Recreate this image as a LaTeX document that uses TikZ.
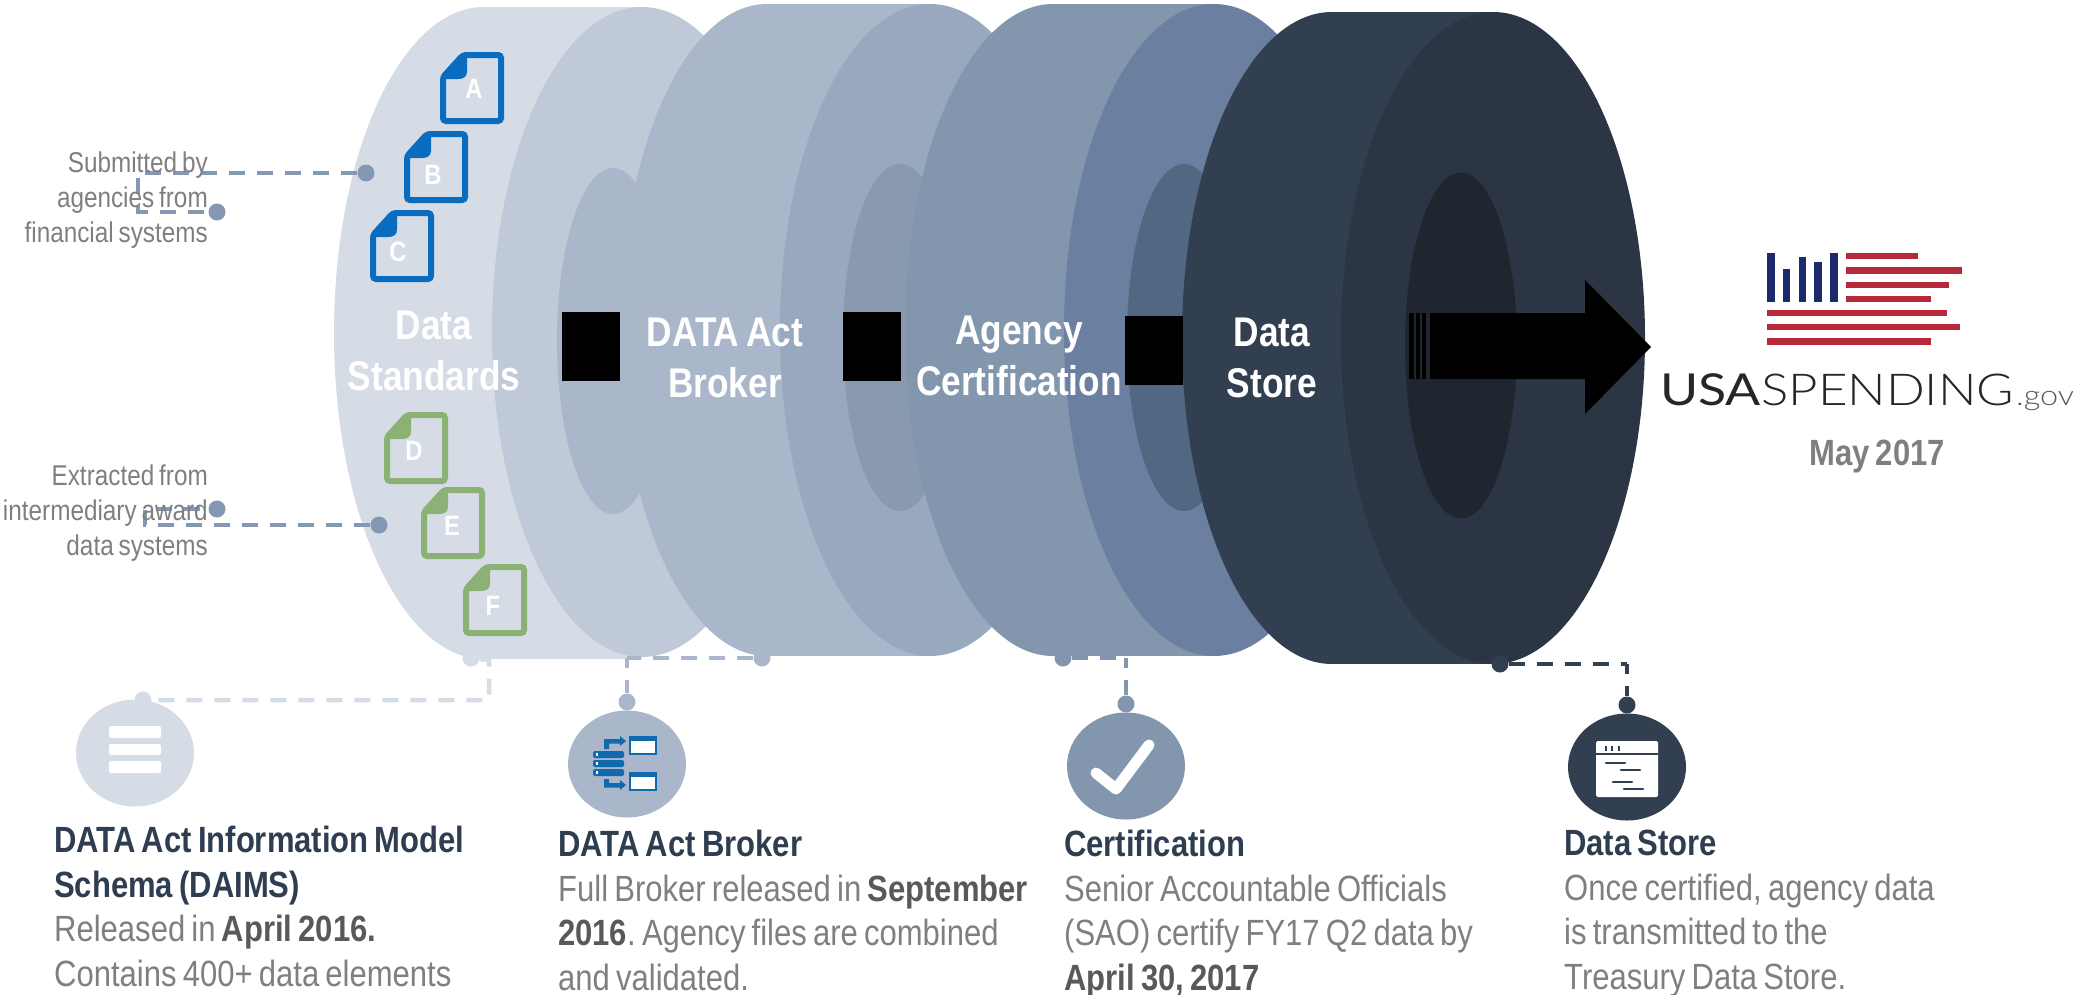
\documentclass[tikz,border=0pt]{standalone}
\usepackage{fontspec}
\setmainfont[FakeStretch=.85,WordSpace=.72]{Liberation Sans}
\newfontfamily\logofont[FakeStretch=1.18]{Lato}
\newfontfamily\logolight[FakeStretch=1.16]{Lato Light}
\usetikzlibrary{shapes.geometric}
\definecolor{discone}{HTML}{D5DCE6}
\definecolor{disconein}{HTML}{BFC9D8}
\definecolor{disctwo}{HTML}{AAB6C9}
\definecolor{disctwoin}{HTML}{98A8BE}
\definecolor{disctwohole}{HTML}{8899B0}
\definecolor{discthree}{HTML}{8296AE}
\definecolor{discthreein}{HTML}{6B80A0}
\definecolor{discthreehole}{HTML}{526882}
\definecolor{discfour}{HTML}{323F50}
\definecolor{discfourin}{HTML}{2B3544}
\definecolor{discfourhole}{HTML}{1F2630}
\definecolor{sideline}{HTML}{8598B3}
\definecolor{docblue}{HTML}{0A6CBF}
\definecolor{docgreen}{HTML}{8BB174}
\definecolor{brokerblue}{HTML}{1169AE}
\definecolor{bodygray}{HTML}{7F7F7F}
\definecolor{boldgray}{HTML}{595959}
\definecolor{headcolor}{HTML}{2E3D50}
\definecolor{flagred}{HTML}{B5293A}
\definecolor{flagblue}{HTML}{1B2A6B}
\tikzset{
  dotnode/.style={circle,minimum size=17pt,inner sep=0pt,fill=#1},
  iconnode/.style={ellipse,minimum width=118pt,minimum height=107pt,inner sep=0pt,fill=#1},
  dashline/.style={draw=#1,line width=4.5pt,dash pattern=on 16pt off 12pt},
  stemline/.style={draw=#1,line width=4.5pt,dash pattern=on 10pt off 12pt on 40pt},
  disclabel/.style={text=white,font=\fontsize{41.5}{51}\selectfont\bfseries,align=center,inner sep=0pt,anchor=base},
  sidelabel/.style={text=bodygray,font=\fontsize{28.6}{35}\selectfont,align=right,inner sep=0pt,anchor=north east},
  infotext/.style={text=bodygray,font=\fontsize{36.5}{44.5}\selectfont,align=left,inner sep=0pt,anchor=north west},
  docletter/.style={text=white,font=\fontsize{28}{28}\selectfont\bfseries,inner sep=0pt},
  pics/docicon/.style={code={
    \draw[draw=#1,line width=6pt,rounded corners=3pt] (23,3) -- (61,3) -- (61,69) -- (3,69) -- (3,25) -- cycle;
    \fill[#1] (3,27) -- (24,3) -- (27,3) -- (27,20) .. controls (27,25) and (23,27) .. (18,27) -- cycle;
  }}
}
\newcommand{\headtext}[1]{\textcolor{headcolor}{\bfseries #1}}
\newcommand{\boldtext}[1]{\textcolor{boldgray}{\bfseries #1}}
\begin{document}
\frenchspacing
\begin{tikzpicture}[x=1pt,y=-1pt]
\useasboundingbox (0,0) rectangle (2073,994);

% disc one
\fill[discone] (484,333) ellipse [x radius=150,y radius=326];
\fill[discone] (484,7) rectangle (642,659);
\fill[disconein] (642,332) ellipse [x radius=150,y radius=325];
\fill[disctwo] (613,341) ellipse [x radius=56,y radius=173];
% disc two
\fill[disctwo] (767,330) ellipse [x radius=147,y radius=326];
\fill[disctwo] (767,4) rectangle (930,656);
\fill[disctwoin] (930,330) ellipse [x radius=150,y radius=326];
\fill[disctwohole] (900,337.5) ellipse [x radius=57,y radius=173.5];
% disc three
\fill[discthree] (1053,330) ellipse [x radius=148,y radius=326];
\fill[discthree] (1053,4) rectangle (1214,656);
\fill[discthreein] (1214,330) ellipse [x radius=150,y radius=326];
\fill[discthreehole] (1184,337.5) ellipse [x radius=57,y radius=173.5];
% disc four
\fill[discfour] (1332,338) ellipse [x radius=150,y radius=326];
\fill[discfour] (1332,12) rectangle (1493,664);
\fill[discfourin] (1493,338) ellipse [x radius=152,y radius=326];
\fill[discfourhole] (1461,345.5) ellipse [x radius=56,y radius=173];

% black blocks and arrow
\fill[black] (562,312) rectangle (620,381);
\fill[black] (843,312) rectangle (901,381);
\fill[black] (1125,316) rectangle (1183,385);
\fill[black] (1409,313) rectangle (1414,379);
\fill[black] (1415.5,313) rectangle (1420,379);
\fill[black] (1421.5,313) rectangle (1426,379);
\fill[black] (1430,313) -- (1585,313) -- (1585,280) -- (1651,347) -- (1585,414) -- (1585,379) -- (1430,379) -- cycle;

% disc labels
\node[disclabel] (standards) at (434,390) {Data\\Standards};
\node[disclabel] (broker) at (725,397) {DATA Act\\Broker};
\node[disclabel] (certify) at (1019,395) {Agency\\Certification};
\node[disclabel] (store) at (1272,397) {Data\\Store};

% files
\pic at (440,52) {docicon=docblue};
\pic at (404,131) {docicon=docblue};
\pic at (370,210) {docicon=docblue};
\pic at (384,412) {docicon=docgreen};
\pic at (421,487) {docicon=docgreen};
\pic at (463,564) {docicon=docgreen};
\node[docletter] (fileA) at (474,89) {A};
\node[docletter] (fileB) at (433,175) {B};
\node[docletter] (fileC) at (398,252) {C};
\node[docletter] (fileD) at (414,451) {D};
\node[docletter] (fileE) at (452,526) {E};
\node[docletter] (fileF) at (493,606) {F};

% side connectors
\node[dotnode=sideline] (subdotA) at (366,173) {};
\node[dotnode=sideline] (subdotB) at (217,212) {};
\coordinate (subcornerA) at (138,173);
\coordinate (subcornerB) at (138,212);
\draw[dashline=sideline] (subdotA) -- (subcornerA) -- (subcornerB) -- (subdotB);
\node[dotnode=sideline] (extdotA) at (379,525) {};
\node[dotnode=sideline] (extdotB) at (217,509) {};
\coordinate (extcornerA) at (145,525);
\coordinate (extcornerB) at (145,509);
\draw[dashline=sideline] (extdotA) -- (extcornerA) -- (extcornerB) -- (extdotB);
\node[sidelabel] (subtext) at (208,152) {Submitted by\\agencies from\\financial systems};
\node[sidelabel] (exttext) at (208,465) {Extracted from\\intermediary award\\data systems};

% bottom icons
\node[iconnode=discone] (daimsicon) at (135,753) {};
\node[iconnode=disctwo] (brokericon) at (627,764) {};
\node[iconnode=discthree] (certicon) at (1126,766) {};
\node[iconnode=discfour] (storeicon) at (1627,767) {};

% bottom connectors
\node[dotnode=discone] (daimsdotA) at (471,658) {};
\node[dotnode=discone] (daimsdotB) at (143,700) {};
\coordinate (daimscornerA) at (489,660);
\coordinate (daimscornerB) at (489,700);
\draw[dashline=discone] (daimsdotA) -- (daimscornerA) -- (daimscornerB) -- (daimsdotB);
\node[dotnode=disctwo] (brokerdotA) at (762,658) {};
\node[dotnode=disctwo] (brokerdotB) at (627,702) {};
\coordinate (brokercorner) at (627,658);
\draw[dashline=disctwo] (brokerdotA) -- (brokercorner);
\draw[stemline=disctwo] (brokercorner) -- (brokerdotB);
\node[dotnode=discthree] (certdotA) at (1063,658) {};
\node[dotnode=discthree] (certdotB) at (1126,704) {};
\coordinate (certcorner) at (1126,658);
\draw[dashline=discthree] (certdotA) -- (certcorner);
\draw[stemline=discthree] (certcorner) -- (certdotB);
\node[dotnode=discfour] (storedotA) at (1500,664) {};
\node[dotnode=discfour] (storedotB) at (1627,705) {};
\coordinate (storecorner) at (1627,664);
\draw[dashline=discfour] (storedotA) -- (storecorner);
\draw[stemline=discfour] (storecorner) -- (storedotB);

% icon one
\fill[white,rounded corners=2pt] (109,726) rectangle (161,738);
\fill[white,rounded corners=2pt] (109,744) rectangle (161,755);
\fill[white,rounded corners=2pt] (109,761) rectangle (161,773);
% icon two
\draw[brokerblue,fill=white,line width=2pt] (630,737) rectangle (656,754);
\fill[brokerblue] (629,736) rectangle (657,741);
\draw[brokerblue,fill=white,line width=2pt] (630,773) rectangle (656,790);
\fill[brokerblue] (629,772) rectangle (657,777);
\fill[brokerblue,rounded corners=2pt] (593,751) rectangle (624,758);
\fill[brokerblue,rounded corners=2pt] (593,760) rectangle (624,767);
\fill[brokerblue,rounded corners=2pt] (593,769) rectangle (624,776);
\fill[white] (596,753) rectangle (598,756);
\fill[white] (596,762) rectangle (598,765);
\fill[white] (596,771) rectangle (598,774);
\fill[brokerblue] (604,749) -- (604,739) -- (620,739) -- (620,736) -- (626,741) -- (620,746) -- (620,743.5) -- (609,743.5) -- (609,749) -- cycle;
\fill[brokerblue] (604,779) -- (609,779) -- (609,783) -- (620,783) -- (620,780) -- (626,785) -- (620,790) -- (620,787.5) -- (604,787.5) -- cycle;
% icon three
\draw[white,line width=11pt,line cap=round,line join=round] (1096,773) -- (1116,789) -- (1149,745);
% icon four
\fill[white,rounded corners=1.5pt] (1596,741) rectangle (1658,797);
\fill[discfour] (1596,753) rectangle (1658,755);
\draw[discfour,line width=2pt] (1606,746) -- (1606,751);
\draw[discfour,line width=2pt] (1612,746) -- (1612,751);
\draw[discfour,line width=2pt] (1619,746) -- (1619,751);
\draw[discfour,line width=2.5pt,line cap=round] (1606,763) -- (1625,763);
\draw[discfour,line width=2.5pt,line cap=round] (1621,770) -- (1640,770);
\draw[discfour,line width=2.5pt,line cap=round] (1613,782) -- (1632,782);
\draw[discfour,line width=2.5pt,line cap=round] (1624,789) -- (1643,789);

% logo
\fill[flagblue] (1767,253) rectangle (1775,302);
\fill[flagblue] (1783,269) rectangle (1790,302);
\fill[flagblue] (1799,257) rectangle (1806,302);
\fill[flagblue] (1814,262) rectangle (1822,302);
\fill[flagblue] (1830,253) rectangle (1838,302);
\fill[flagred] (1846,253) rectangle (1918,259);
\fill[flagred] (1846,267) rectangle (1962,274);
\fill[flagred] (1846,282) rectangle (1949,288);
\fill[flagred] (1846,296) rectangle (1931,302);
\fill[flagred] (1767,310) rectangle (1947,316);
\fill[flagred] (1767,324) rectangle (1960,330);
\fill[flagred] (1767,338) rectangle (1931,345);
\node[inner sep=0pt,anchor=base west,text=black!85] (logousa) at (1660,405) {\fontsize{44}{44}\logofont USA};
\node[inner sep=0pt,anchor=base west,text=black!85] (logospend) at (1761,405) {\fontsize{44}{44}\logolight SPENDING};
\node[inner sep=0pt,anchor=base west,text=black!65] (logogov) at (2016,405) {\fontsize{28}{28}\logolight .gov};
\node[inner sep=0pt,anchor=base,text=bodygray,font=\fontsize{36.5}{44}\selectfont\bfseries] (maydate) at (1877,465) {May 2017};

% bottom text
\node[infotext] (daimstext) at (54,826) {\headtext{DATA Act Information Model}\\\headtext{Schema (DAIMS)}\\Released in \boldtext{April 2016.}\\Contains 400+ data elements};
\node[infotext] (brokertext) at (558,830) {\headtext{DATA Act Broker}\\Full Broker released in \boldtext{September}\\\boldtext{2016}. Agency files are combined\\and validated.};
\node[infotext] (certtext) at (1064,830) {\headtext{Certification}\\Senior Accountable Officials\\(SAO) certify FY17 Q2 data by\\\boldtext{April 30, 2017}};
\node[infotext] (storetext) at (1564,830) {\headtext{Data Store}\\Once certified, agency data\\is transmitted to the\\Treasury Data Store.};
\end{tikzpicture}
\end{document}
